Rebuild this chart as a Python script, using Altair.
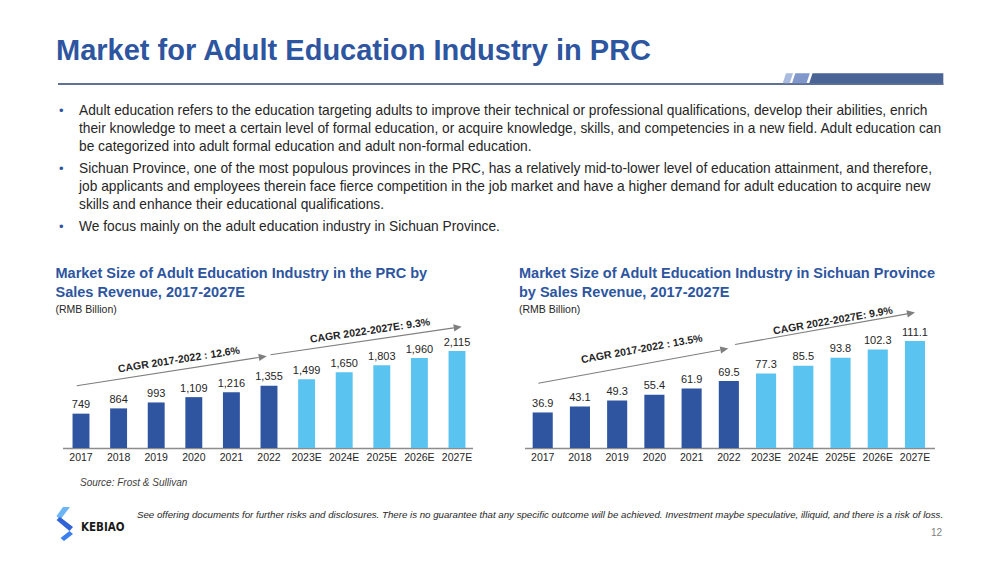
import math
import altair as alt
import pandas as pd

# ---------------- data ----------------
years = ["2017", "2018", "2019", "2020", "2021", "2022",
         "2023E", "2024E", "2025E", "2026E", "2027E"]
prc_values = [749, 864, 993, 1109, 1216, 1355, 1499, 1650, 1803, 1960, 2115]
sichuan_values = [36.9, 43.1, 49.3, 55.4, 61.9, 69.5, 77.3, 85.5, 93.8, 102.3, 111.1]
phase = ["Actual"] * 6 + ["Forecast"] * 5

title_text = "Market for Adult Education Industry in PRC"
bullets = [
    ["Adult education refers to the education targeting adults to improve their technical or professional qualifications, develop their abilities, enrich",
     "their knowledge to meet a certain level of formal education, or acquire knowledge, skills, and competencies in a new field. Adult education can",
     "be categorized into adult formal education and adult non-formal education."],
    ["Sichuan Province, one of  the most populous provinces in the PRC, has a relatively mid-to-lower level of education attainment, and therefore,",
     "job applicants and employees therein face fierce competition in the job market and have a higher demand for adult education to acquire new",
     "skills and enhance their educational qualifications."],
    ["We focus mainly on the adult education industry in Sichuan Province."],
]
left_title = ["Market Size of Adult Education Industry in the PRC by", "Sales Revenue, 2017-2027E"]
right_title = ["Market Size of Adult Education Industry in Sichuan Province", "by Sales Revenue, 2017-2027E"]
unit_text = "(RMB Billion)"
left_cagr = ["CAGR 2017-2022 : 12.6%", "CAGR 2022-2027E: 9.3%"]
right_cagr = ["CAGR 2017-2022 : 13.5%", "CAGR 2022-2027E: 9.9%"]
source_text = "Source: Frost & Sullivan"
disclaimer = ("See offering documents for further risks and disclosures. There is no guarantee that any specific "
              "outcome will be achieved. Investment maybe speculative, illiquid, and there is a risk of loss.")
page_no = "12"
logo_text = "KEBIAO"

# ---------------- style ----------------
FONT = "Liberation Sans"
BLUE = "#2D55A0"
DARK = "#2F55A0"
LIGHT = "#5BC3EF"
TXT = "#262626"
GREY = "#7F7F7F"
OX = OY = 8          # page margin
W, H = 983, 546

ONE = pd.DataFrame({"k": [0]})


def cx(x):
    return x - OX


def cy(y):
    return y - OY


def text(t, x, y, size, color=TXT, weight="normal", style="normal",
         align="left", baseline="middle", angle=None, font=FONT):
    kw = dict(text=t, fontSize=size, color=color, fontWeight=weight,
              fontStyle=style, align=align, baseline=baseline, font=font)
    if angle is not None:
        kw["angle"] = angle
    return alt.Chart(ONE).mark_text(**kw).encode(x=alt.value(cx(x)), y=alt.value(cy(y)))


def rule(x1, y1, x2, y2, color, width, cap="butt"):
    return alt.Chart(ONE).mark_rule(color=color, strokeWidth=width, strokeCap=cap).encode(
        x=alt.value(cx(x1)), y=alt.value(cy(y1)), x2=alt.value(cx(x2)), y2=alt.value(cy(y2)))


def poly(points, color):
    path = "M" + " L".join(f"{cx(x):.2f},{cy(y):.2f}" for x, y in points) + " Z"
    return alt.Chart(ONE).mark_point(shape=path, size=4, filled=True, color=color,
                                     opacity=1, strokeWidth=0).encode(
        x=alt.value(0), y=alt.value(0))


def arrow(sx, sy, tx, ty, color=GREY):
    dx, dy = tx - sx, ty - sy
    ln = math.hypot(dx, dy)
    ux, uy = dx / ln, dy / ln
    L, hw = 8, 3.6
    bx, by = tx - L * ux, ty - L * uy
    nx, ny = -uy, ux
    head = poly([(tx, ty), (bx + hw * nx, by + hw * ny), (bx - hw * nx, by - hw * ny)], color)
    return [rule(sx, sy, bx, by, color, 1.1), head]


def panel(values, fmt, xr, yr, vmax, pad):
    df = pd.DataFrame({"year": years, "value": values, "phase": phase})
    xs = alt.X("year:N", sort=years,
               scale=alt.Scale(domain=years, range=[cx(xr[0]), cx(xr[1])],
                               paddingInner=pad, paddingOuter=pad / 2),
               axis=None)
    ys = alt.Y("value:Q",
               scale=alt.Scale(domain=[0, vmax], range=[cy(yr[0]), cy(yr[1])], nice=False, zero=True),
               axis=None)
    base = alt.Chart(df)
    bars = base.mark_bar().encode(
        x=xs, y=ys,
        color=alt.Color("phase:N", scale=alt.Scale(domain=["Actual", "Forecast"], range=[DARK, LIGHT]),
                        legend=None))
    labels = base.mark_text(baseline="middle", dy=-8.5, fontSize=11, color=TXT, font=FONT).encode(
        x=xs, y=ys, text=alt.Text("value:Q", format=fmt))
    ticks = base.mark_text(baseline="middle", fontSize=10.5, color=TXT, font=FONT).encode(
        x=xs, y=alt.value(cy(457.5)), text="year:N")
    return alt.layer(bars, labels, ticks)


layers = []

# title + decorative header bar
layers.append(text(title_text, 56, 59.5, 29, color=BLUE, weight="bold", baseline="alphabetic"))
layers.append(rule(58, 84, 943.5, 84, "#2B416F", 1.6))
layers.append(poly([(782.7, 83.3), (786.0, 73.3), (793.0, 73.3), (789.7, 83.3)], "#AABBDF"))
layers.append(poly([(792.0, 83.3), (795.3, 73.3), (809.8, 73.3), (806.5, 83.3)], "#7F97CB"))
layers.append(poly([(809.2, 83.3), (812.5, 73.3), (943.3, 73.3), (943.3, 83.3)], "#4A6496"))

# bullets
y = 111
for para in bullets:
    layers.append(text("\u2022", 59, y, 13, color=BLUE))
    for line in para:
        layers.append(text(line, 79, y, 13.75, color="#262626"))
        y += 18
    y += 4

# chart titles
for i, line in enumerate(left_title):
    layers.append(text(line, 55.5, 278 + 18.5 * i, 14.5, color=BLUE, weight="bold", baseline="alphabetic"))
for i, line in enumerate(right_title):
    layers.append(text(line, 519, 278 + 18.5 * i, 14.5, color=BLUE, weight="bold", baseline="alphabetic"))
layers.append(text(unit_text, 55.5, 310, 10.5, color=TXT))
layers.append(text(unit_text, 519, 310, 10.5, color=TXT))

# axis base lines
layers.append(rule(63, 448.5, 473, 448.5, "#8C8C8C", 1.5))
layers.append(rule(525, 448.5, 935, 448.5, "#8C8C8C", 1.5))

# CAGR arrows & labels
layers += arrow(76.7, 385.7, 266.7, 356.2)
layers += arrow(270.5, 354.7, 461.7, 326.7)
layers += arrow(538.3, 383.3, 728.3, 348.5)
layers += arrow(735.0, 344.5, 915.0, 312.5)
layers.append(text(left_cagr[0], 179, 360, 10.5, weight="bold", align="center", angle=351.2))
layers.append(text(left_cagr[1], 370, 331, 10.5, weight="bold", align="center", angle=351.6))
layers.append(text(right_cagr[0], 641.7, 349.3, 10.5, weight="bold", align="center", angle=349.8))
layers.append(text(right_cagr[1], 833, 321, 10.5, weight="bold", align="center", angle=350))

# footer
layers.append(text(source_text, 80, 483, 10, color="#404040", style="italic"))
layers.append(text(disclaimer, 137, 515, 9.7, color="#262626", style="italic"))
layers.append(text(page_no, 942, 533, 10, color=GREY, align="right"))

# logo
layers.append(poly([(63, 507), (70, 507), (60, 520), (56.5, 516)], "#6DB4F4"))
layers.append(poly([(56.5, 520), (60, 517), (73, 527), (69.5, 531)], "#2E62D6"))
layers.append(poly([(69.5, 531), (73, 534), (64, 541), (60.5, 538)], "#3C7FEF"))
layers.append(text(logo_text, 81, 527.5, 11.5, color="#1A1A1A", weight="bold",
                   font="'Liberation Sans Narrow', 'DejaVu Sans Condensed', 'Liberation Sans'"))

left = panel(prc_values, ",", (62.2, 475.8), (448, 351), 2115, 0.55)
right = panel(sichuan_values, ".1f", (524.1, 933.6), (448, 341), 111.1, 0.46)

chart = alt.layer(*layers, left, right).resolve_scale(
    x="independent", y="independent"
).properties(
    width=W, height=H, padding=0,
    autosize=alt.AutoSizeParams(type="none"),
    background="white",
).configure_view(stroke=None)

chart.save("out.html", embed_options={"renderer": "svg", "actions": False})
